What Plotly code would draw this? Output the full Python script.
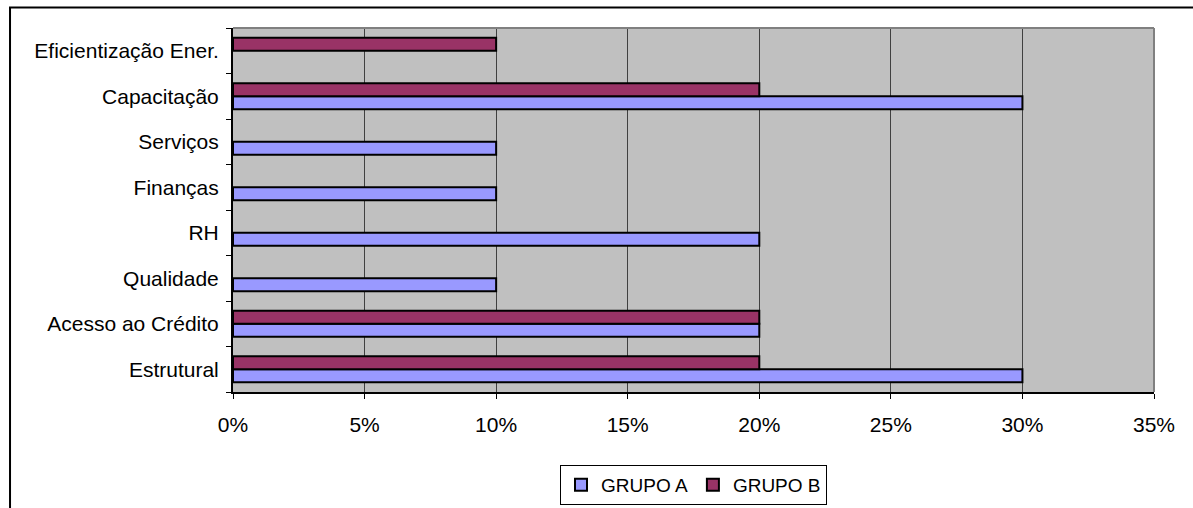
import plotly.graph_objects as go

categories = ["Estrutural", "Acesso ao Crédito", "Qualidade", "RH",
              "Finanças", "Serviços", "Capacitação", "Eficientização Ener."]
grupo_a = [30, 20, 10, 20, 10, 10, 30, None]
grupo_b = [20, 20, None, None, None, None, 20, 10]
x_ticks = [0, 5, 10, 15, 20, 25, 30, 35]
x_labels = ["0%", "5%", "10%", "15%", "20%", "25%", "30%", "35%"]

FONT = "Liberation Sans, Arial, sans-serif"
FS = 21

fig = go.Figure()
fig.add_trace(go.Bar(
    name="GRUPO A", y=categories, x=grupo_a, orientation="h",
    marker=dict(color="#9999FF", line=dict(color="black", width=2)),
))
fig.add_trace(go.Bar(
    name="GRUPO B", y=categories, x=grupo_b, orientation="h",
    marker=dict(color="#993366", line=dict(color="black", width=2)),
))

# outer chart frame (extends past the visible page edges)
fig.add_shape(type="rect", xref="paper", yref="paper",
              x0=-0.2421, x1=1.08, y0=-0.4, y1=1.0563,
              line=dict(color="black", width=2), fillcolor="rgba(0,0,0,0)",
              layer="below")
# plot frame on top and right
fig.add_shape(type="line", xref="paper", yref="paper",
              x0=0, x1=1, y0=1, y1=1, line=dict(color="#808080", width=2))
fig.add_shape(type="line", xref="paper", yref="paper",
              x0=1, x1=1, y0=0, y1=1, line=dict(color="#808080", width=2))

fig.update_layout(
    width=1193, height=508,
    margin=dict(l=233, r=39, t=28, b=116),
    paper_bgcolor="white", plot_bgcolor="#C0C0C0",
    barmode="group", bargap=0.43, bargroupgap=0,
    font=dict(family=FONT, size=FS, color="black"),
    showlegend=True,
    legend=dict(orientation="h", x=0.5, xanchor="center",
                yref="container", y=1 - 465 / 508, yanchor="top",
                bordercolor="black", borderwidth=1, bgcolor="white",
                traceorder="normal", font=dict(size=19, family=FONT),
                itemwidth=30, tracegroupgap=0),
    xaxis=dict(range=[0, 35], tickvals=x_ticks, ticktext=x_labels,
               showgrid=True, gridcolor="#404040", gridwidth=1,
               showline=True, linecolor="black", linewidth=2,
               ticks="outside", ticklen=5, tickcolor="black", tickwidth=1,
               ticklabelstandoff=8,
               zeroline=False, fixedrange=True),
    yaxis=dict(type="category", categoryorder="array", categoryarray=categories,
               showgrid=False, showline=True, linecolor="black", linewidth=2,
               ticks="outside", ticklen=5, tickcolor="black", tickwidth=1,
               tickson="boundaries", ticklabelstandoff=8, fixedrange=True),
)

fig.write_html("out.html")
